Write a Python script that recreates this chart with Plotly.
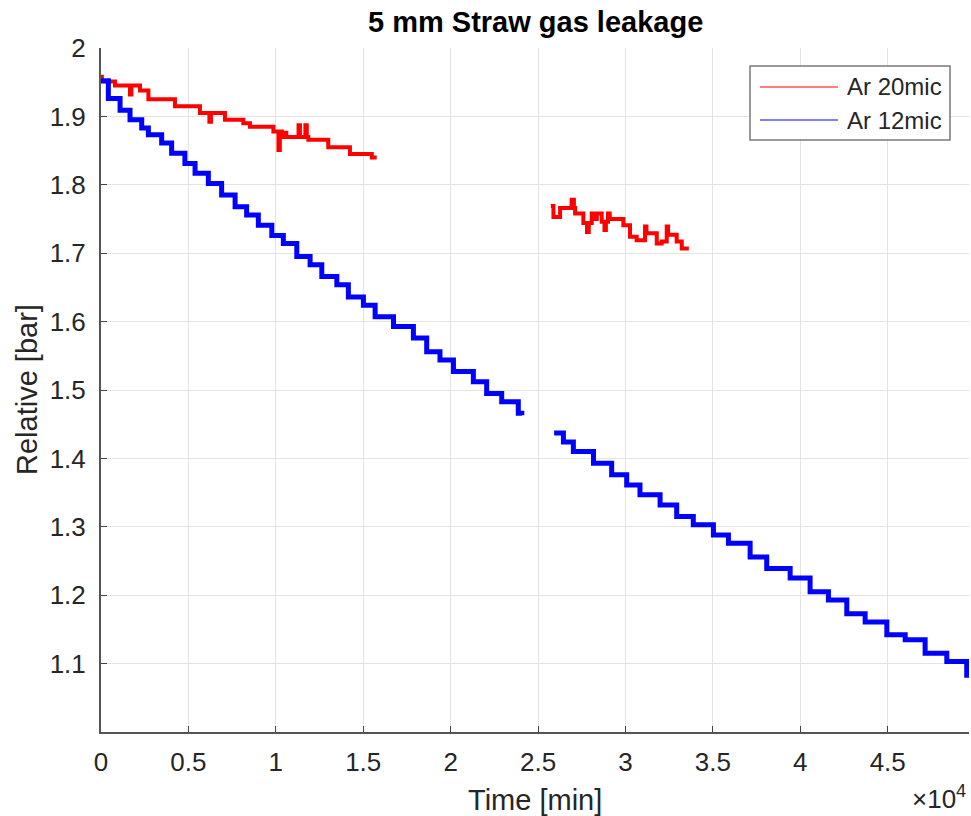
import plotly.graph_objects as go

# ---- data ----
# Ar 12mic (blue), two recording segments
blue_x1 = [0, 420, 1090, 1660, 2330, 2710, 3470, 4040, 4800, 5380, 6140, 6900, 7670, 8330, 9000,
           9770, 10430, 11200, 11960, 12630, 13490, 14150, 15010, 15680, 16730, 17870, 18630,
           19390, 20160, 21300, 22060, 22920, 23870, 24070]
blue_y1 = [1.952, 1.926, 1.909, 1.895, 1.883, 1.873, 1.861, 1.846, 1.831, 1.817, 1.802, 1.785, 1.768,
           1.756, 1.741, 1.726, 1.714, 1.695, 1.683, 1.666, 1.654, 1.636, 1.624, 1.607, 1.593, 1.576,
           1.556, 1.544, 1.527, 1.512, 1.495, 1.483, 1.466, 1.463]
blue_x2 = [25920, 26450, 27020, 28170, 29210, 30070, 30830, 31980, 32930, 33880, 35030, 35890, 37130,
           38080, 39420, 40560, 41610, 42660, 43710, 44950, 46000, 47140, 48380, 49520, 49650]
blue_y2 = [1.437, 1.424, 1.410, 1.393, 1.376, 1.361, 1.347, 1.332, 1.315, 1.303, 1.288, 1.276, 1.256,
           1.239, 1.225, 1.205, 1.193, 1.173, 1.161, 1.142, 1.135, 1.115, 1.103, 1.083, 1.083]

# Ar 20mic (red), two recording segments
red_x1 = [0, 50, 800, 1660, 1740, 2230, 2710, 4230, 5660, 6200, 6290, 7090, 8140, 8520, 9860, 10150,
          10230, 10340, 10530, 10600, 11300, 11380, 11690, 11770, 11860, 13000, 14240, 15490, 15770]
red_y1 = [1.958, 1.951, 1.945, 1.932, 1.945, 1.938, 1.925, 1.915, 1.905, 1.892, 1.905, 1.895, 1.890,
          1.885, 1.878, 1.851, 1.878, 1.870, 1.876, 1.870, 1.887, 1.870, 1.887, 1.870, 1.866, 1.855,
          1.845, 1.840, 1.840]
red_x2 = [25730, 25880, 26260, 26920, 27050, 27120, 27590, 27800, 27900, 28070, 28150, 28360, 28640,
          28800, 28880, 29000, 29100, 29410, 29880, 30260, 30640, 31120, 31200, 31410, 31790, 32070,
          32360, 32440, 32550, 32930, 33220, 33510]
red_y2 = [1.769, 1.753, 1.766, 1.778, 1.766, 1.758, 1.744, 1.731, 1.744, 1.758, 1.750, 1.758, 1.746,
          1.734, 1.746, 1.758, 1.750, 1.750, 1.741, 1.724, 1.719, 1.739, 1.729, 1.729, 1.714, 1.717,
          1.739, 1.727, 1.727, 1.717, 1.707, 1.704]

x_tick_vals = [0, 5000, 10000, 15000, 20000, 25000, 30000, 35000, 40000, 45000]
x_tick_text = ["0", "0.5", "1", "1.5", "2", "2.5", "3", "3.5", "4", "4.5"]
y_tick_vals = [1.1, 1.2, 1.3, 1.4, 1.5, 1.6, 1.7, 1.8, 1.9, 2.0]
y_tick_text = ["1.1", "1.2", "1.3", "1.4", "1.5", "1.6", "1.7", "1.8", "1.9", "2"]

series_names = ["Ar 20mic", "Ar 12mic"]
series_colors = ["#ff0000", "#0000ff"]

FONT = "Liberation Sans, Arial, Helvetica, sans-serif"
TXT = "#262626"

# plot area in pixels: x 101..969, y 48..732
L, R, T, B = 101, 969, 48, 732
W, H = R - L, B - T


def px(xp):
    return (xp - L) / W


def py(yp):
    return (B - yp) / H


fig = go.Figure()

red_x = red_x1 + [None] + red_x2
red_y = red_y1 + [None] + red_y2
blue_x = blue_x1 + [None] + blue_x2
blue_y = blue_y1 + [None] + blue_y2

fig.add_trace(go.Scatter(x=red_x, y=red_y, mode="lines", name=series_names[0],
                         line=dict(color=series_colors[0], width=4, shape="hv"),
                         showlegend=False, connectgaps=False, hoverinfo="skip"))
fig.add_trace(go.Scatter(x=blue_x, y=blue_y, mode="lines", name=series_names[1],
                         line=dict(color=series_colors[1], width=5, shape="hv"),
                         showlegend=False, connectgaps=False, hoverinfo="skip"))

shapes = [
    # legend box
    dict(type="rect", xref="paper", yref="paper", x0=px(750), x1=px(950), y0=py(140), y1=py(66),
         line=dict(color="#7a7a7a", width=1.5), fillcolor="white", layer="above"),
]
annotations = []
legend_rows = [87, 120]
for nm, col, yrow in zip(series_names, series_colors, legend_rows):
    shapes.append(dict(type="line", xref="paper", yref="paper", x0=px(760), x1=px(838),
                       y0=py(yrow), y1=py(yrow), line=dict(color=col, width=1.2), layer="above"))
    annotations.append(dict(text=nm, xref="paper", yref="paper", x=px(845), xanchor="left",
                            y=py(yrow), yanchor="middle", showarrow=False,
                            font=dict(size=24, color=TXT)))

annotations += [
    dict(text="<b>5 mm Straw gas leakage</b>", xref="paper", yref="paper", x=0.5, xanchor="center",
         y=py(22), yanchor="middle", showarrow=False, font=dict(size=29, color="#000000")),
    dict(text="Time [min]", xref="paper", yref="paper", x=0.5, xanchor="center",
         y=py(800), yanchor="middle", showarrow=False, font=dict(size=29, color=TXT)),
    dict(text="Relative [bar]", xref="paper", yref="paper", x=px(27), xanchor="center",
         y=0.5, yanchor="middle", textangle=-90, showarrow=False, font=dict(size=29, color=TXT)),
    dict(text="×10<sup>4</sup>", xref="paper", yref="paper", x=px(968), xanchor="right",
         y=py(797), yanchor="middle", showarrow=False, font=dict(size=26, color=TXT)),
]

fig.update_layout(
    width=971, height=816,
    margin=dict(l=L, r=971 - R, t=T, b=816 - B),
    paper_bgcolor="white", plot_bgcolor="white",
    font=dict(family=FONT, color=TXT, size=26),
    showlegend=False,
    xaxis=dict(range=[0, 49650], tickvals=x_tick_vals, ticktext=x_tick_text,
               showgrid=True, gridcolor="#e3e3e3", gridwidth=1,
               showline=True, linecolor="#555555", linewidth=2,
               ticks="inside", ticklen=6, tickcolor="#444444", zeroline=False,
               tickfont=dict(size=26, color=TXT), ticklabelstandoff=6),
    yaxis=dict(range=[1.0, 2.0], tickvals=y_tick_vals, ticktext=y_tick_text,
               showgrid=True, gridcolor="#e3e3e3", gridwidth=1,
               showline=True, linecolor="#555555", linewidth=2,
               ticks="inside", ticklen=6, tickcolor="#444444", zeroline=False,
               tickfont=dict(size=26, color=TXT), ticklabelstandoff=8),
    shapes=shapes,
    annotations=annotations,
)

fig.write_html("out.html")
